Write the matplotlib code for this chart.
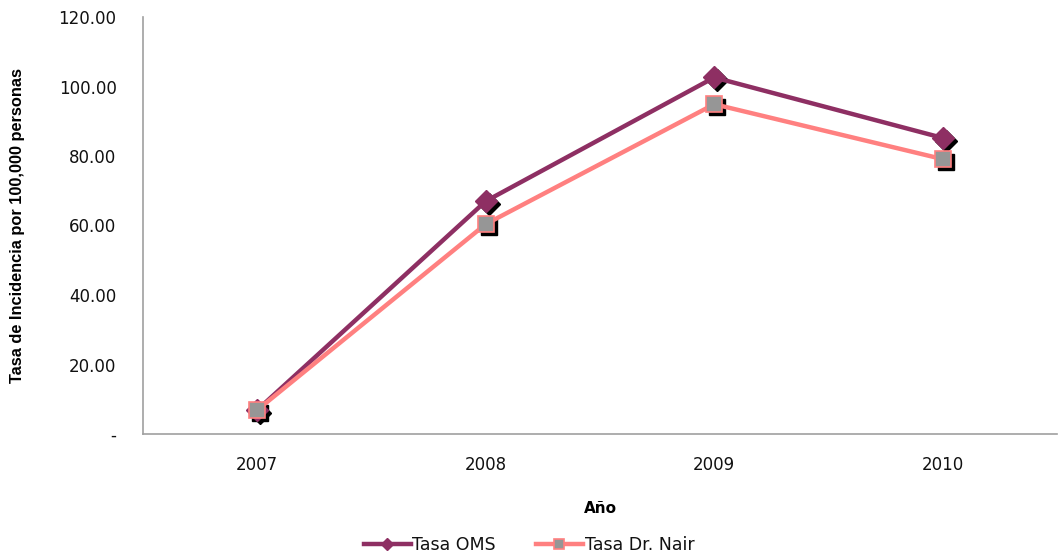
import matplotlib
matplotlib.use("Agg")
from matplotlib import pyplot as plt
from matplotlib import transforms
from matplotlib.ticker import FuncFormatter

years = ["2007", "2008", "2009", "2010"]
tasa_oms = [6.9, 67.0, 102.6, 85.2]
tasa_nair = [6.9, 60.4, 94.9, 79.1]

fig = plt.figure(figsize=(10.59, 5.57), dpi=100)
ax = fig.add_axes([143 / 1059, 1 - 434 / 557, 914 / 1059, 417 / 557])

x = list(range(len(years)))

# sombras negras de los marcadores
shadow = transforms.offset_copy(ax.transData, fig=fig, x=3, y=-3, units="dots")
ax.plot(x, tasa_oms, linestyle="none", marker="D", markersize=11,
        color="black", transform=shadow, zorder=2)
ax.plot(x, tasa_nair, linestyle="none", marker="s", markersize=12,
        color="black", transform=shadow, zorder=2)

ax.plot(x, tasa_oms, color="#8E2F63", linewidth=3.2, marker="D",
        markersize=11, markerfacecolor="#8E2F63", markeredgecolor="#8E2F63",
        label="Tasa OMS", zorder=3)
ax.plot(x, tasa_nair, color="#FF8080", linewidth=3.2, marker="s",
        markersize=12, markerfacecolor="#969696", markeredgecolor="#FF8080",
        markeredgewidth=1.2, label="Tasa Dr. Nair", zorder=4)

ax.set_xlim(-0.5, 3.5)
ax.set_ylim(0, 120)
ax.set_yticks([0, 20, 40, 60, 80, 100, 120])
ax.yaxis.set_major_formatter(FuncFormatter(lambda v, p: "-" if v == 0 else f"{v:.2f}"))
ax.set_xticks(x)
ax.set_xticklabels(years)
ax.tick_params(axis="both", length=0, labelsize=12, colors="#111111")
ax.tick_params(axis="y", pad=19)
ax.tick_params(axis="x", pad=16)

for side in ["top", "right"]:
    ax.spines[side].set_visible(False)
for side in ["left", "bottom"]:
    ax.spines[side].set_color("#A0A0A0")
    ax.spines[side].set_linewidth(1.2)

ax.set_ylabel("Tasa de Incidencia por 100,000 personas", fontsize=11.8,
              fontweight="bold", family="Liberation Sans")
ax.yaxis.set_label_coords(-118 / 914, 0.5)
ax.set_xlabel("Año", fontsize=11, fontweight="bold", labelpad=19)

handles, labels = ax.get_legend_handles_labels()
fig.legend(handles, labels, loc="center", bbox_to_anchor=(529 / 1059, 12 / 557),
           ncol=2, frameon=False, fontsize=12.5, handlelength=2.7,
           handletextpad=0.1, columnspacing=2.3, markerscale=0.6,
           labelcolor="#111111")

fig.savefig("out.png", dpi=100)
